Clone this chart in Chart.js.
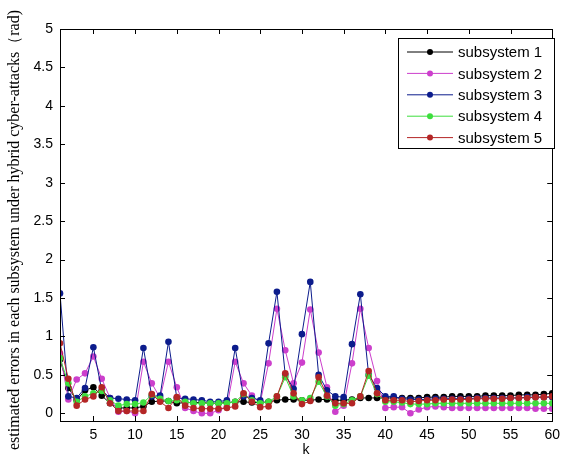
<!DOCTYPE html>
<html lang="en">
<head>
<meta charset="UTF-8">
<title>Estimated errors in each subsystem</title>
<script src="https://cdn.jsdelivr.net/npm/chart.js"></script>
<style>
    html, body { margin: 0; padding: 0; background: #fff; }
    #errChart { display: block; }
</style>
</head>
<body>
<canvas id="errChart" width="566" height="459"></canvas>
<script>
    // time steps k
    const steps = Array.from({ length: 60 }, (_, i) => i + 1);
    const xTicks = [5, 10, 15, 20, 25, 30, 35, 40, 45, 50, 55, 60];
    const yTicks = [0, 0.5, 1, 1.5, 2, 2.5, 3, 3.5, 4, 4.5, 5];
    const seriesNames = ['subsystem 1', 'subsystem 2', 'subsystem 3', 'subsystem 4', 'subsystem 5'];
    const yTitle = 'estimated errors in each subsystem under hybrid cyber-attacks（rad)';

    const sub1 = [0.70, 0.33, 0.17, 0.30, 0.34, 0.23, 0.13, 0.07, 0.07, 0.07,
                  0.09, 0.15, 0.16, 0.16, 0.13, 0.14, 0.14, 0.14, 0.13, 0.13,
                  0.14, 0.15, 0.15, 0.14, 0.14, 0.15, 0.17, 0.18, 0.18, 0.17,
                  0.17, 0.18, 0.18, 0.17, 0.17, 0.18, 0.20, 0.20, 0.20, 0.20,
                  0.20, 0.20, 0.20, 0.20, 0.21, 0.21, 0.21, 0.22, 0.22, 0.22,
                  0.22, 0.23, 0.23, 0.23, 0.23, 0.24, 0.24, 0.24, 0.25, 0.26];
    const sub2 = [0.78, 0.18, 0.44, 0.52, 0.74, 0.45, 0.20, 0.02, 0.03, 0.00,
                  0.67, 0.39, 0.20, 0.67, 0.34, 0.07, 0.03, 0.00, 0.00, 0.04,
                  0.08, 0.67, 0.39, 0.23, 0.14, 0.65, 1.36, 0.82, 0.39, 0.66,
                  1.35, 0.79, 0.34, 0.02, 0.10, 0.65, 1.36, 0.85, 0.42, 0.07,
                  0.08, 0.08, 0.00, 0.05, 0.08, 0.09, 0.08, 0.07, 0.07, 0.07,
                  0.07, 0.07, 0.07, 0.07, 0.07, 0.07, 0.07, 0.06, 0.06, 0.06];
    const sub3 = [1.56, 0.22, 0.20, 0.33, 0.86, 0.30, 0.20, 0.19, 0.18, 0.17,
                  0.85, 0.22, 0.23, 0.93, 0.20, 0.19, 0.18, 0.17, 0.15, 0.15,
                  0.17, 0.85, 0.22, 0.20, 0.17, 0.91, 1.58, 0.50, 0.32, 1.03,
                  1.71, 0.50, 0.30, 0.22, 0.21, 0.90, 1.55, 0.50, 0.33, 0.22,
                  0.22, 0.19, 0.18, 0.18, 0.18, 0.19, 0.19, 0.19, 0.19, 0.19,
                  0.20, 0.20, 0.20, 0.20, 0.20, 0.20, 0.21, 0.21, 0.21, 0.21];
    const sub4 = [0.72, 0.39, 0.15, 0.22, 0.26, 0.29, 0.17, 0.10, 0.12, 0.12,
                  0.14, 0.24, 0.19, 0.16, 0.17, 0.15, 0.13, 0.13, 0.13, 0.13,
                  0.13, 0.15, 0.25, 0.17, 0.13, 0.15, 0.22, 0.47, 0.22, 0.17,
                  0.20, 0.41, 0.22, 0.10, 0.12, 0.17, 0.22, 0.49, 0.25, 0.15,
                  0.15, 0.14, 0.12, 0.12, 0.12, 0.13, 0.13, 0.13, 0.13, 0.13,
                  0.13, 0.13, 0.13, 0.13, 0.13, 0.13, 0.13, 0.13, 0.13, 0.13];
    const sub5 = [0.91, 0.45, 0.10, 0.18, 0.22, 0.34, 0.13, 0.03, 0.03, 0.03,
                  0.03, 0.25, 0.15, 0.07, 0.21, 0.10, 0.07, 0.06, 0.06, 0.06,
                  0.07, 0.09, 0.26, 0.15, 0.08, 0.09, 0.22, 0.52, 0.26, 0.12,
                  0.16, 0.47, 0.23, 0.13, 0.13, 0.13, 0.22, 0.55, 0.26, 0.17,
                  0.17, 0.17, 0.15, 0.16, 0.17, 0.17, 0.18, 0.18, 0.18, 0.18,
                  0.19, 0.19, 0.19, 0.19, 0.20, 0.20, 0.20, 0.21, 0.21, 0.22];

    const allSeries = [sub1, sub2, sub3, sub4, sub5];
    const colors = ['#000000', '#cc3fcc', '#0c1c8c', '#3ede3e', '#b42626'];

    // box around the axes with inward ticks on every side (matlab look)
    const framePlugin = {
        id: 'frame',
        afterDatasetsDraw(chart) {
            const { ctx, chartArea: a, scales } = chart;
            ctx.save();
            ctx.strokeStyle = '#000';
            ctx.lineWidth = 1;
            ctx.beginPath();
            xTicks.forEach(v => {
                const px = Math.round(scales.x.getPixelForValue(v)) + 0.5;
                ctx.moveTo(px, a.bottom); ctx.lineTo(px, a.bottom - 5);
                ctx.moveTo(px, a.top); ctx.lineTo(px, a.top + 5);
            });
            yTicks.forEach(v => {
                const py = Math.round(scales.y.getPixelForValue(v)) + 0.5;
                ctx.moveTo(a.left, py); ctx.lineTo(a.left + 5, py);
                ctx.moveTo(a.right, py); ctx.lineTo(a.right - 5, py);
            });
            ctx.stroke();
            ctx.strokeRect(Math.round(a.left) + 0.5, Math.round(a.top) + 0.5,
                Math.round(a.right - a.left), Math.round(a.bottom - a.top));

            // y axis title, rotated
            ctx.translate(15, 230);
            ctx.rotate(-Math.PI / 2);
            ctx.fillStyle = '#000';
            ctx.font = '16px "Liberation Serif", "Times New Roman", serif';
            ctx.textAlign = 'center';
            ctx.textBaseline = 'middle';
            ctx.fillText(yTitle, 0, 0);
            ctx.restore();
        },
        afterDraw(chart) {
            // legend box in the upper right corner
            const { ctx } = chart;
            const bx = 398, by = 38, bw = 156, bh = 110;
            ctx.save();
            ctx.fillStyle = '#fff';
            ctx.fillRect(bx, by, bw, bh);
            ctx.strokeStyle = '#000';
            ctx.lineWidth = 1;
            ctx.strokeRect(bx + 0.5, by + 0.5, bw, bh);
            ctx.font = '15px "Liberation Sans", Arial, sans-serif';
            ctx.textBaseline = 'middle';
            chart.data.datasets.forEach((ds, i) => {
                const y = by + 14 + i * 21.4;
                ctx.strokeStyle = ds.borderColor;
                ctx.beginPath();
                ctx.moveTo(bx + 9, y); ctx.lineTo(bx + 55, y);
                ctx.stroke();
                ctx.fillStyle = ds.borderColor;
                ctx.beginPath();
                ctx.arc(bx + 32, y, 3, 0, Math.PI * 2);
                ctx.fill();
                ctx.fillStyle = '#000';
                ctx.fillText(ds.label, bx + 60, y + 1);
            });
            ctx.restore();
        }
    };

    const datasets = allSeries.map((vals, i) => ({
        label: seriesNames[i],
        data: vals.map((v, j) => ({ x: steps[j], y: v })),
        borderColor: colors[i],
        backgroundColor: colors[i],
        borderWidth: 1,
        pointRadius: 3.3,
        pointBorderWidth: 0,
        pointBackgroundColor: colors[i],
        tension: 0,
        order: 4 - i
    }));

    new Chart(document.getElementById('errChart'), {
        type: 'line',
        data: { datasets },
        options: {
            responsive: false,
            animation: false,
            layout: { padding: { left: 0, top: 29, right: 9, bottom: 0 } },
            plugins: {
                legend: { display: false },
                tooltip: { enabled: false }
            },
            scales: {
                x: {
                    type: 'linear',
                    min: 1,
                    max: 60,
                    grid: { display: false, drawTicks: false },
                    border: { display: false },
                    afterBuildTicks: s => { s.ticks = xTicks.map(v => ({ value: v })); },
                    afterFit: s => { s.height = 38; },
                    ticks: {
                        padding: 6,
                        maxRotation: 0,
                        color: '#000',
                        font: { family: '"Liberation Sans", Arial, sans-serif', size: 14 },
                        callback: v => String(v)
                    },
                    title: {
                        display: true,
                        text: 'k',
                        color: '#000',
                        padding: { top: 0, bottom: 0 },
                        font: { family: '"Liberation Sans", Arial, sans-serif', size: 14 }
                    }
                },
                y: {
                    min: -0.1,
                    max: 5,
                    grid: { display: false, drawTicks: false },
                    border: { display: false },
                    afterBuildTicks: s => { s.ticks = yTicks.map(v => ({ value: v })); },
                    afterFit: s => { s.width = 60; },
                    ticks: {
                        padding: 7,
                        color: '#000',
                        font: { family: '"Liberation Sans", Arial, sans-serif', size: 14 },
                        callback: v => String(v)
                    }
                }
            }
        },
        plugins: [framePlugin]
    });
</script>
</body>
</html>
